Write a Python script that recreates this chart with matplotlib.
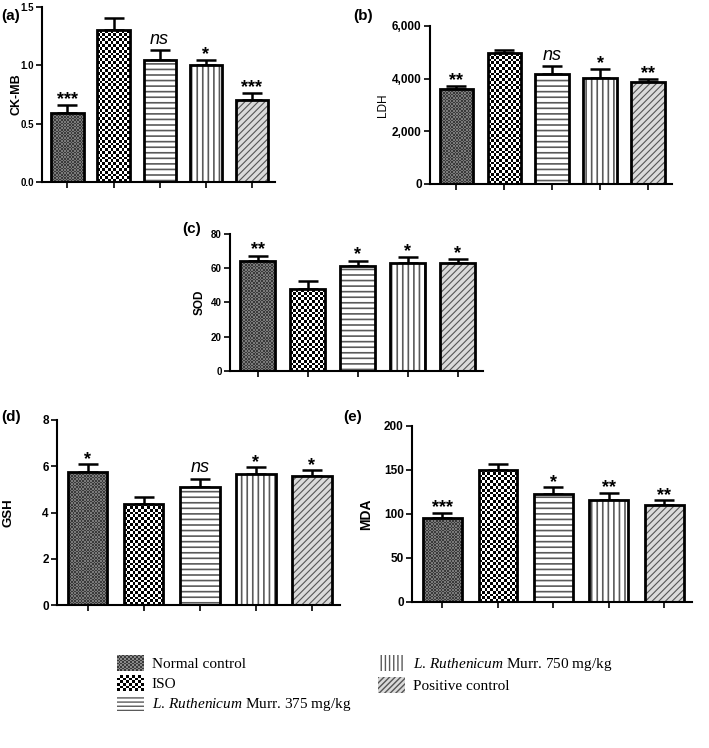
import matplotlib
matplotlib.use("Agg")
import numpy as np
import matplotlib.pyplot as plt
from matplotlib.patches import Patch, Rectangle
from matplotlib.colors import ListedColormap
from matplotlib.legend_handler import HandlerBase

plt.rcParams["font.family"] = "Liberation Sans"
plt.rcParams["mathtext.fontset"] = "custom"
plt.rcParams["mathtext.rm"] = "Liberation Serif"
plt.rcParams["mathtext.it"] = "Liberation Serif:italic"

W, H = 709, 748

# groups, in bar order
groups = ["Normal control", "ISO", "L. Ruthenicum Murr. 375 mg/kg",
          "L. Ruthenicum Murr. 750 mg/kg", "Positive control"]

ckmb = [0.59, 1.30, 1.05, 1.00, 0.705]
ckmb_err = [0.07, 0.11, 0.08, 0.05, 0.06]
ckmb_sig = ["***", "", "ns", "*", "***"]

ldh = [3600, 4960, 4170, 4020, 3865]
ldh_err = [110, 140, 300, 340, 120]
ldh_sig = ["**", "", "ns", "*", "**"]

sod = [64.0, 47.8, 61.5, 62.8, 62.8]
sod_err = [3.3, 4.5, 2.9, 3.5, 2.5]
sod_sig = ["**", "", "*", "*", "*"]

gsh = [5.74, 4.37, 5.12, 5.66, 5.56]
gsh_err = [0.36, 0.32, 0.33, 0.30, 0.27]
gsh_sig = ["*", "", "ns", "*", "*"]

mda = [96, 150.3, 123, 115.4, 110]
mda_err = [5.3, 6.4, 7.2, 8.7, 5.7]
mda_sig = ["***", "", "*", "**", "**"]

# checker textures (two colours, cell size in px) for the first two groups
checkers = {0: ("#3a3a3a", "#7a7a7a", 1.6), 1: ("#000000", "#ffffff", 2.8)}
# fill colour, hatch colour, hatch pattern, hatch width for the rest
hatches = {
    2: ("#ffffff", "#5a5a5a", "---", 1.2),
    3: ("#ffffff", "#5a5a5a", "|||", 1.2),
    4: ("#dadada", "#555555", "/////", 0.8),
}
BW = 0.7

fig = plt.figure(figsize=(W / 100, H / 100), dpi=100)


def panel(box, vals, errs, sig, ymax, yticks, ticklabels, tfs,
          ylabel, lfs, lweight, lx, tag, tagpos):
    # box = left, top, right, bottom in pixels
    l, t, r, b = box
    ax = fig.add_axes([l / W, 1 - b / H, (r - l) / W, (b - t) / H])
    x = list(range(len(vals)))
    xlim = (-0.55, 4.5)
    for i in x:
        if i in hatches:
            fc, hc, h, hlw = hatches[i]
            with plt.rc_context({"hatch.linewidth": hlw}):
                ax.bar(i, vals[i], width=BW, color=fc, edgecolor=hc, hatch=h, linewidth=0, zorder=2)
        else:
            c1, c2, cell = checkers[i]
            under = ax.bar(i, vals[i], width=BW, color=c1, linewidth=0, zorder=1.5)[0]
            wpx = BW / (xlim[1] - xlim[0]) * (r - l)
            hpx = vals[i] / ymax * (b - t)
            nx, ny = max(1, round(wpx / cell)), max(1, round(hpx / cell))
            board = np.indices((ny, nx)).sum(axis=0) % 2
            im = ax.imshow(board, cmap=ListedColormap([c1, c2]), interpolation="nearest",
                           extent=(i - BW / 2, i + BW / 2, 0, vals[i]), aspect="auto",
                           origin="lower", zorder=2)
            im.set_clip_path(under)
        ax.bar(i, vals[i], width=BW, fill=False, edgecolor="black", linewidth=2, zorder=3)
    ax.errorbar(x, vals, yerr=[[0] * len(errs), errs], fmt="none",
                ecolor="black", elinewidth=1.8, capsize=7, capthick=1.8, zorder=1)
    for i, s in enumerate(sig):
        if not s:
            continue
        top = vals[i] + errs[i] + ymax * 0.015
        if s == "ns":
            ax.text(i, top, s, ha="center", va="bottom", fontsize=13, style="italic")
        else:
            ax.text(i, top - ymax * 0.035, s, ha="center", va="bottom", fontsize=13, fontweight="bold")
    ax.set_xlim(*xlim)
    ax.set_ylim(0, ymax)
    ax.set_yticks(yticks)
    ax.set_yticklabels(ticklabels, fontweight="bold", fontsize=tfs)
    ax.set_xticks(x)
    ax.set_xticklabels([])
    ax.tick_params(direction="out", length=4, width=1.2, pad=2)
    for sp in ["top", "right"]:
        ax.spines[sp].set_visible(False)
    for sp in ["left", "bottom"]:
        ax.spines[sp].set_linewidth(1.5)
    ax.set_ylabel(ylabel, fontweight=lweight, fontsize=lfs, va="center")
    ax.yaxis.set_label_coords((lx - l) / (r - l), 0.5)
    fig.text(tagpos[0] / W, 1 - tagpos[1] / H, tag, fontweight="bold", fontsize=11,
             ha="left", va="center")
    return ax


panel((42, 7, 275, 182), ckmb, ckmb_err, ckmb_sig, 1.5,
      [0, 0.5, 1.0, 1.5], ["0.0", "0.5", "1.0", "1.5"], 7,
      "CK-MB", 9, "bold", 16, "(a)", (1, 16))
panel((430, 26, 672, 184), ldh, ldh_err, ldh_sig, 6000,
      [0, 2000, 4000, 6000], ["0", "2,000", "4,000", "6,000"], 8.5,
      "LDH", 8.5, "normal", 383, "(b)", (353, 16))
panel((230, 234, 483, 371), sod, sod_err, sod_sig, 80,
      [0, 20, 40, 60, 80], ["0", "20", "40", "60", "80"], 7,
      "SOD", 8.5, "bold", 200, "(c)", (182, 229))
panel((57, 420, 340, 605), gsh, gsh_err, gsh_sig, 8,
      [0, 2, 4, 6, 8], ["0", "2", "4", "6", "8"], 8.5,
      "GSH", 9.5, "bold", 8, "(d)", (1, 417))
panel((412, 426, 692, 602), mda, mda_err, mda_sig, 200,
      [0, 50, 100, 150, 200], ["0", "50", "100", "150", "200"], 8.5,
      "MDA", 10, "bold", 366, "(e)", (343, 417))


class CheckerHandler(HandlerBase):
    def __init__(self, c1, c2, nx, ny):
        super().__init__()
        self.c1, self.c2, self.nx, self.ny = c1, c2, nx, ny

    def create_artists(self, legend, orig_handle, xdescent, ydescent, width, height,
                       fontsize, trans):
        cw, ch = width / self.nx, height / self.ny
        arts = []
        for a in range(self.nx):
            for k in range(self.ny):
                col = self.c1 if (a + k) % 2 == 0 else self.c2
                arts.append(Rectangle((-xdescent + a * cw, -ydescent + k * ch), cw, ch,
                                      facecolor=col, edgecolor="none", transform=trans))
        return arts


labels = ["Normal control", "ISO",
          r"$\it{L.\,Ruthenicum}$ Murr. 375 mg/kg",
          r"$\it{L.\,Ruthenicum}$ Murr. 750 mg/kg",
          "Positive control"]
h0 = Patch(facecolor=checkers[0][0])
h1 = Patch(facecolor=checkers[1][0])
handles = [h0, h1]
for i in (2, 3, 4):
    fc, hc, h, hlw = hatches[i]
    with plt.rc_context({"hatch.linewidth": hlw}):
        handles.append(Patch(facecolor=fc, edgecolor=hc, hatch=h + h[0], linewidth=0))
fig.legend(handles, labels, ncol=2, loc="upper left", bbox_to_anchor=(0.145, 0.143),
           frameon=False, prop={"family": "Liberation Serif", "size": 11},
           handlelength=1.8, handleheight=1.25, handletextpad=0.5,
           columnspacing=1.75, labelspacing=0.25,
           handler_map={h0: CheckerHandler("#3a3a3a", "#8a8a8a", 14, 10),
                        h1: CheckerHandler("#000000", "#ffffff", 9, 6)})

fig.savefig("out.png", dpi=100)
